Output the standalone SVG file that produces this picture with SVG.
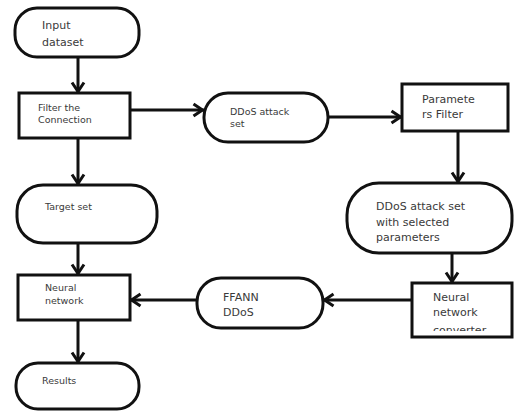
<svg xmlns="http://www.w3.org/2000/svg" width="515" height="411" viewBox="0 0 515 411">
<style>
.shape{fill:#fff;stroke:#111;stroke-width:3}
.t{font-family:"DejaVu Sans","Liberation Sans",sans-serif;fill:#3a3a3a}
.s{font-size:9.5px}
.m{font-size:11px}
.conn{stroke:#111;stroke-width:3;fill:none;marker-end:url(#arr)}
</style>
<defs>
<marker id="arr" markerUnits="userSpaceOnUse" markerWidth="20" markerHeight="20" refX="1.5" refY="0" orient="auto" overflow="visible">
<path d="M-9,-6 L0,0 L-9,6" fill="none" stroke="#111" stroke-width="3"/>
</marker>
<clipPath id="clipConv"><rect x="413" y="284" width="99" height="47"/></clipPath>
</defs>
<rect width="515" height="411" fill="#fff"/>
<g id="connectors">
<line class="conn" x1="78" y1="57" x2="78" y2="93"/>
<line class="conn" x1="130" y1="110" x2="204" y2="110"/>
<line class="conn" x1="327" y1="117" x2="402" y2="117"/>
<line class="conn" x1="78" y1="138" x2="78" y2="185"/>
<line class="conn" x1="458" y1="131" x2="458" y2="183"/>
<line class="conn" x1="452" y1="253" x2="452" y2="283"/>
<line class="conn" x1="412" y1="300" x2="323" y2="300"/>
<line class="conn" x1="197" y1="300" x2="130" y2="300"/>
<line class="conn" x1="78" y1="243" x2="78" y2="275"/>
<line class="conn" x1="78" y1="320" x2="78" y2="363"/>
</g>
<g id="input-dataset">
<rect class="shape" x="15" y="8" width="124" height="49" rx="22"/>
<text class="t m" x="42" y="29">Input</text>
<text class="t m" x="42" y="46">dataset</text>
</g>
<g id="filter-connection">
<rect class="shape" x="19" y="93" width="111" height="45"/>
<text class="t s" x="38" y="111">Filter the</text>
<text class="t s" x="38" y="123">Connection</text>
</g>
<g id="ddos-attack-set">
<rect class="shape" x="204" y="93" width="124" height="49" rx="24"/>
<text class="t s" x="230" y="115">DDoS attack</text>
<text class="t s" x="230" y="127">set</text>
</g>
<g id="parameters-filter">
<rect class="shape" x="402" y="84" width="106" height="47"/>
<text class="t m" x="422" y="103">Paramete</text>
<text class="t m" x="422" y="118">rs Filter</text>
</g>
<g id="ddos-selected">
<rect class="shape" x="347" y="183" width="165" height="70" rx="32"/>
<text class="t m" x="376" y="210">DDoS attack set</text>
<text class="t m" x="376" y="226">with selected</text>
<text class="t m" x="376" y="241">parameters</text>
</g>
<g id="nn-converter">
<rect class="shape" x="412" y="283" width="100" height="54"/>
<text class="t m" x="433" y="301">Neural</text>
<text class="t m" x="433" y="316">network</text>
<text class="t m" x="433" y="334" clip-path="url(#clipConv)">converter</text>
</g>
<g id="ffann-ddos">
<rect class="shape" x="197" y="278" width="126" height="50" rx="24"/>
<text class="t m" x="223" y="301">FFANN</text>
<text class="t m" x="223" y="316">DDoS</text>
</g>
<g id="target-set">
<rect class="shape" x="17" y="185" width="140" height="58" rx="26"/>
<text class="t s" x="45" y="210">Target set</text>
</g>
<g id="neural-network">
<rect class="shape" x="18" y="275" width="112" height="45"/>
<text class="t s" x="45" y="291">Neural</text>
<text class="t s" x="45" y="304">network</text>
</g>
<g id="results">
<rect class="shape" x="16" y="363" width="123" height="46" rx="22"/>
<text class="t s" x="42" y="384">Results</text>
</g>
</svg>
